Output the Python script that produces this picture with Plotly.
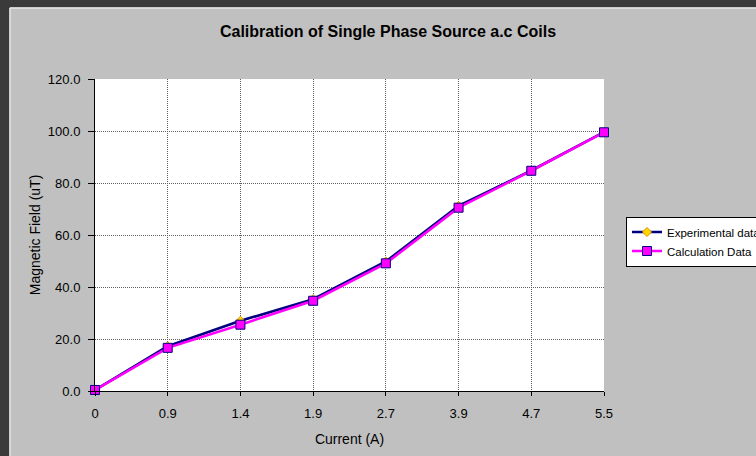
import plotly.graph_objects as go

# Coil current (A) and measured / calculated magnetic field (uT)
currents = ["0", "0.9", "1.4", "1.9", "2.7", "3.9", "4.7", "5.5"]
experimental = [0.4, 17.2, 27.0, 35.3, 49.8, 71.2, 84.8, 99.6]
calculated = [0.4, 16.6, 25.5, 34.7, 49.1, 70.5, 84.7, 99.5]

W, H = 756, 456
L, R, T, B = 95, 604, 79, 391  # plot area edges in pixels

FONT = "Arial, Liberation Sans, sans-serif"
GRID = dict(showgrid=True, gridcolor="#606060", griddash="1px,1px", gridwidth=1)


def px(x):
    return (x - L) / (R - L)


def py(y):
    return (B - y) / (B - T)


fig = go.Figure()

fig.add_trace(go.Scatter(
    x=currents, y=experimental, mode="lines+markers", name="Experimental data",
    line=dict(color="#000080", width=2.6),
    marker=dict(symbol="diamond", size=7, color="#ffd700",
                line=dict(color="#e09000", width=1)),
    cliponaxis=False,
))
fig.add_trace(go.Scatter(
    x=currents, y=calculated, mode="lines+markers", name="Calculation Data",
    line=dict(color="#ff00ff", width=2.6),
    marker=dict(symbol="square", size=9, color="#ff00ff",
                line=dict(color="#000080", width=1)),
    cliponaxis=False,
))

# Dark outer frame with a light edge around the chart area
shapes = [
    dict(type="rect", xref="paper", yref="paper", x0=px(-5), x1=px(9.5),
         y0=py(H + 5), y1=py(-5), fillcolor="#3a3a3a", line=dict(width=0), layer="below"),
    dict(type="rect", xref="paper", yref="paper", x0=px(-5), x1=px(W + 5),
         y0=py(7.5), y1=py(-5), fillcolor="#3a3a3a", line=dict(width=0), layer="below"),
    dict(type="line", xref="paper", yref="paper", x0=px(10), x1=px(10),
         y0=py(8), y1=py(H + 5), line=dict(color="#e6e6e6", width=1.5), layer="below"),
    dict(type="line", xref="paper", yref="paper", x0=px(10), x1=px(W + 5),
         y0=py(8), y1=py(8), line=dict(color="#e6e6e6", width=1.5), layer="below"),
]

fig.update_layout(
    width=W, height=H,
    margin=dict(l=L, r=W - R, t=T, b=H - B, pad=0, autoexpand=False),
    paper_bgcolor="#c0c0c0",
    plot_bgcolor="#ffffff",
    font=dict(family=FONT, color="#000000", size=13),
    title=dict(text="<b>Calibration of Single Phase Source a.c Coils</b>",
               x=388 / W, xref="container", xanchor="center",
               y=1 - 31.5 / H, yref="container", yanchor="middle",
               font=dict(size=16, family=FONT, color="#000000")),
    shapes=shapes,
    showlegend=True,
    legend=dict(x=px(626), y=py(216.5), xanchor="left", yanchor="top",
                bgcolor="#ffffff", bordercolor="#000000", borderwidth=1,
                font=dict(size=11.5, family=FONT), tracegroupgap=0,
                itemwidth=30),
    xaxis=dict(
        type="category", range=[0, len(currents) - 1],
        title=dict(text="Current (A)", font=dict(size=14), standoff=14),
        showline=True, linecolor="#000000", linewidth=1,
        ticks="outside", ticklen=4, tickcolor="#000000", ticklabelstandoff=6,
        tickfont=dict(size=13), **GRID,
    ),
    yaxis=dict(
        range=[0, 120], dtick=20, tickformat=".1f",
        title=dict(text="Magnetic Field (uT)", font=dict(size=14), standoff=3),
        showline=True, linecolor="#000000", linewidth=1,
        ticks="outside", ticklen=6, tickcolor="#000000", ticklabelstandoff=5,
        zeroline=False, tickfont=dict(size=13), **GRID,
    ),
)

fig.write_html("out.html")
